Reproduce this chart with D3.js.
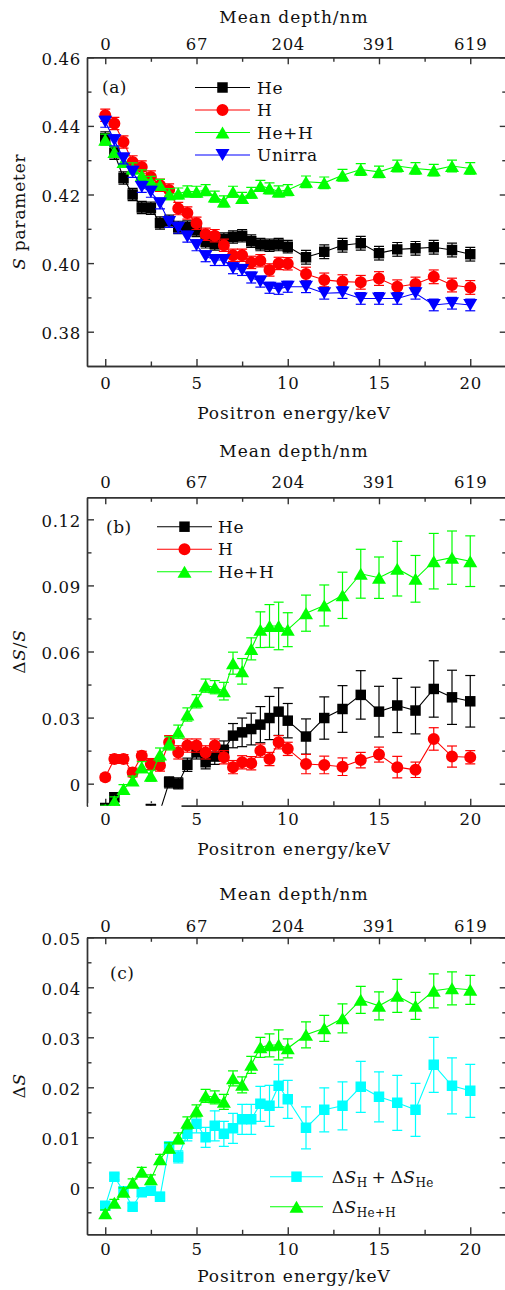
<!DOCTYPE html>
<html><head><meta charset="utf-8">
<script src="https://cdn.jsdelivr.net/npm/d3@7"></script>
<style>
body{margin:0;background:#fff}
svg{display:block}
text{font-family:"DejaVu Serif",serif;fill:#111}
</style>
</head><body>
<svg id="chart" width="505" height="1290"></svg>
<script>
// ---------- data ----------
const energy = [0,0.5,1,1.5,2,2.5,3,3.5,4,4.5,5,5.5,6,6.5,7,7.5,8,8.5,9,9.5,10,11,12,13,14,15,16,17,18,19,20];
const xMajorTicks = [0,5,10,15,20];
const xMinorTicks = [2.5,7.5,12.5,17.5];
const depthLabels = ["0","67","204","391","619"];

// (a) S parameter
const sHe   = [0.4365,0.4320,0.4248,0.4200,0.4162,0.4160,0.4117,0.4122,0.4104,0.4105,0.4095,0.4062,0.4056,0.4070,0.4076,0.4080,0.4064,0.4054,0.4052,0.4054,0.4048,0.4017,0.4033,0.4052,0.4058,0.4029,0.4040,0.4043,0.4046,0.4038,0.4026];
const sHeErr= [0.0018,0.0018,0.0018,0.0018,0.0018,0.0018,0.0018,0.0018,0.0018,0.0018,0.0018,0.0018,0.0018,0.0018,0.0018,0.0018,0.0018,0.0018,0.0018,0.0018,0.0018,0.0020,0.0020,0.0020,0.0020,0.0020,0.0020,0.0020,0.0020,0.0020,0.0020];
const sH    = [0.4431,0.4407,0.4353,0.4295,0.4280,0.4251,0.4227,0.4213,0.4159,0.4146,0.4116,0.4084,0.4080,0.4052,0.4023,0.4023,0.4002,0.4007,0.3980,0.3999,0.3998,0.3968,0.3951,0.3946,0.3944,0.3955,0.3931,0.3939,0.3960,0.3936,0.3929];
const sHErr = [0.0018,0.0018,0.0018,0.0018,0.0018,0.0018,0.0018,0.0018,0.0018,0.0018,0.0018,0.0018,0.0018,0.0018,0.0018,0.0018,0.0018,0.0018,0.0018,0.0018,0.0018,0.0020,0.0020,0.0020,0.0020,0.0020,0.0020,0.0020,0.0020,0.0020,0.0020];
const sHeH  = [0.4360,0.4324,0.4295,0.4276,0.4256,0.4237,0.4228,0.4201,0.4203,0.4209,0.4208,0.4213,0.4194,0.4180,0.4208,0.4190,0.4205,0.4225,0.4218,0.4209,0.4213,0.4237,0.4234,0.4256,0.4273,0.4266,0.4283,0.4276,0.4271,0.4283,0.4276];
const sHeHErr=[0.0016,0.0016,0.0016,0.0016,0.0016,0.0016,0.0016,0.0016,0.0016,0.0016,0.0016,0.0016,0.0016,0.0016,0.0016,0.0016,0.0016,0.0016,0.0016,0.0016,0.0016,0.0017,0.0017,0.0017,0.0017,0.0017,0.0017,0.0017,0.0017,0.0017,0.0017];
const sUn   = [0.4412,0.4358,0.4305,0.4266,0.4222,0.4208,0.4174,0.4120,0.4103,0.4077,0.4052,0.4020,0.4009,0.4009,0.3985,0.3980,0.3958,0.3946,0.3928,0.3925,0.3931,0.3931,0.3912,0.3914,0.3897,0.3897,0.3897,0.3912,0.3878,0.3883,0.3878];
const sUnErr= [0.0016,0.0016,0.0016,0.0016,0.0016,0.0016,0.0016,0.0016,0.0016,0.0016,0.0016,0.0016,0.0016,0.0016,0.0016,0.0016,0.0016,0.0016,0.0016,0.0016,0.0016,0.0017,0.0017,0.0017,0.0017,0.0017,0.0017,0.0017,0.0017,0.0017,0.0017];
const yTicksA = [0.38,0.40,0.42,0.44,0.46];
const yMinorA = [0.39,0.41,0.43,0.45];

// (b) ΔS/S
const rHe    = [-0.0110,-0.0062,-0.0130,-0.0155,-0.0140,-0.0115,-0.0125,0.0006,0.0001,0.0086,0.0142,0.0097,0.0123,0.0154,0.0218,0.0233,0.0248,0.0268,0.0298,0.0327,0.0286,0.0214,0.0298,0.0339,0.0403,0.0327,0.0355,0.0332,0.0430,0.0392,0.0374];
const rHeErr = [0.0020,0.0020,0.0020,0.0020,0.0020,0.0020,0.0020,0.0025,0.0025,0.0030,0.0030,0.0030,0.0035,0.0040,0.0055,0.0065,0.0072,0.0082,0.0098,0.0108,0.0078,0.0080,0.0096,0.0106,0.0110,0.0115,0.0123,0.0106,0.0128,0.0123,0.0117];
const rH     = [0.0029,0.0112,0.0112,0.0051,0.0127,0.0089,0.0082,0.0188,0.0142,0.0173,0.0173,0.0142,0.0173,0.0120,0.0075,0.0097,0.0093,0.0150,0.0112,0.0188,0.0158,0.0089,0.0085,0.0077,0.0107,0.0132,0.0075,0.0063,0.0203,0.0123,0.0120];
const rHErr  = [0.0015,0.0020,0.0020,0.0020,0.0020,0.0025,0.0025,0.0030,0.0030,0.0030,0.0030,0.0030,0.0030,0.0030,0.0030,0.0030,0.0030,0.0030,0.0030,0.0030,0.0030,0.0044,0.0040,0.0040,0.0035,0.0034,0.0049,0.0035,0.0051,0.0048,0.0030];
const rHeH   = [-0.0118,-0.0080,-0.0024,0.0014,0.0075,0.0036,0.0132,0.0183,0.0236,0.0314,0.0374,0.0445,0.0438,0.0420,0.0547,0.0510,0.0612,0.0699,0.0716,0.0716,0.0699,0.0774,0.0809,0.0855,0.0953,0.0935,0.0976,0.0930,0.1010,0.1026,0.1010];
const rHeHErr= [0.0020,0.0020,0.0020,0.0020,0.0025,0.0025,0.0030,0.0030,0.0030,0.0030,0.0030,0.0030,0.0030,0.0040,0.0050,0.0058,0.0050,0.0081,0.0097,0.0108,0.0077,0.0082,0.0093,0.0105,0.0111,0.0094,0.0124,0.0106,0.0126,0.0121,0.0115];
const yTicksB = [0,0.03,0.06,0.09,0.12];
const yMinorB = [0.015,0.045,0.075,0.105];

// (c) ΔS
const dSum    = [-0.0037,0.0021,-0.0008,-0.0039,-0.0010,-0.0007,-0.0019,0.0081,0.0061,0.0107,0.0127,0.0100,0.0123,0.0107,0.0118,0.0136,0.0136,0.0167,0.0163,0.0203,0.0176,0.0119,0.0155,0.0163,0.0201,0.0181,0.0169,0.0155,0.0245,0.0203,0.0193];
const dSumErr = [0.0005,0.0006,0.0006,0.0007,0.0008,0.0008,0.0009,0.0010,0.0012,0.0014,0.0018,0.0020,0.0030,0.0025,0.0030,0.0030,0.0030,0.0035,0.0041,0.0043,0.0038,0.0042,0.0044,0.0048,0.0051,0.0050,0.0055,0.0053,0.0055,0.0056,0.0053];
const dHeH    = [-0.0052,-0.0031,-0.0009,0.0009,0.0031,0.0016,0.0056,0.0079,0.0098,0.0129,0.0153,0.0183,0.0180,0.0171,0.0218,0.0205,0.0245,0.0280,0.0284,0.0285,0.0278,0.0305,0.0318,0.0338,0.0375,0.0363,0.0383,0.0363,0.0393,0.0398,0.0395];
const dHeHErr = [0.0007,0.0007,0.0008,0.0008,0.0009,0.0009,0.0010,0.0010,0.0011,0.0012,0.0012,0.0013,0.0013,0.0015,0.0015,0.0016,0.0017,0.0020,0.0023,0.0030,0.0019,0.0026,0.0026,0.0029,0.0027,0.0028,0.0033,0.0027,0.0034,0.0033,0.0029];
const yTicksC = [0,0.01,0.02,0.03,0.04,0.05];
const yMinorC = [-0.005,0.005,0.015,0.025,0.035,0.045];

// ---------- drawing ----------
const svg = d3.select("#chart");
const x = d3.scaleLinear().domain([-1,22]).range([87,506.75]);
const AX = "#333";
const fmtTick = v => v === 0 ? "0" : d3.format(".2f")(v);

// bbox-centred triangle symbols
const triUp = {draw(ctx, s){ const w=s/2, h=s*0.43; ctx.moveTo(0,-h); ctx.lineTo(w,h); ctx.lineTo(-w,h); ctx.closePath(); }};
const triDown = {draw(ctx, s){ const w=s/2, h=s*0.43; ctx.moveTo(0,h); ctx.lineTo(w,-h); ctx.lineTo(-w,-h); ctx.closePath(); }};
function symPath(shape){
  if (shape === "square") return d3.symbol().type(d3.symbolSquare).size(110)();
  if (shape === "circle") return d3.symbol().type(d3.symbolCircle).size(113)();
  if (shape === "tri") return d3.symbol().type(triUp).size(14)();
  return d3.symbol().type(triDown).size(14)();
}

function styleText(sel, size, ls){
  sel.attr("font-family",'"DejaVu Serif",serif').attr("font-size",size).attr("fill","#111")
     .attr("letter-spacing", ls);
}

function drawPanel(cfg){
  const y = d3.scaleLinear().domain(cfg.dom).range([cfg.bottom, cfg.top]);
  const x0 = x.range()[0], x1 = x.range()[1];
  const g = svg.append("g");
  const cid = "clip" + cfg.id;
  svg.append("clipPath").attr("id", cid).append("rect")
    .attr("x", x0).attr("y", cfg.top).attr("width", x1 - x0).attr("height", cfg.bottom - cfg.top);

  const ax = g.append("g");
  function put(axis, tx, ty){
    const a = ax.append("g").attr("transform", `translate(${tx},${ty})`).call(axis);
    a.attr("font-family", null).attr("font-size", null).attr("color", AX);
    a.selectAll("path,line").attr("stroke", AX).attr("stroke-width", 1.4);
    return a;
  }
  // bottom
  put(d3.axisBottom(x).tickValues(xMinorTicks).tickSizeInner(-4.5).tickSizeOuter(0).tickFormat(""), 0, cfg.bottom);
  const bAx = put(d3.axisBottom(x).tickValues(xMajorTicks).tickSizeInner(-7).tickSizeOuter(0).tickFormat(d3.format("d")), 0, cfg.bottom);
  bAx.selectAll("text").attr("y", cfg.botLab).attr("dy", null).call(styleText, 16.5, 0.7);
  // top
  put(d3.axisTop(x).tickValues(xMinorTicks).tickSizeInner(-4.5).tickSizeOuter(0).tickFormat(""), 0, cfg.top);
  const tAx = put(d3.axisTop(x).tickValues(xMajorTicks).tickSizeInner(-7).tickSizeOuter(0)
      .tickFormat((d,i) => depthLabels[i]), 0, cfg.top);
  tAx.selectAll("text").attr("y", cfg.topLab).attr("dy", null).call(styleText, 16.5, 0.7);
  // left
  put(d3.axisLeft(y).tickValues(cfg.minor).tickSizeInner(-4.5).tickSizeOuter(0).tickFormat(""), x0, 0);
  const lAx = put(d3.axisLeft(y).tickValues(cfg.major).tickSizeInner(-7).tickSizeOuter(0).tickFormat(fmtTick), x0, 0);
  lAx.selectAll("text").attr("x", -6).attr("dy", null).attr("y", 7).call(styleText, 16.5, 0.7);
  // right
  put(d3.axisRight(y).tickValues(cfg.minor).tickSizeInner(-4.5).tickSizeOuter(0).tickFormat(""), x1, 0);
  put(d3.axisRight(y).tickValues(cfg.major).tickSizeInner(-7).tickSizeOuter(0).tickFormat(""), x1, 0);

  if (cfg.mask) {
    g.append("rect").attr("x", cfg.mask[0]).attr("y", cfg.bottom - 2.5)
      .attr("width", cfg.mask[1] - cfg.mask[0]).attr("height", 9).attr("fill", "#fff");
  }

  // titles
  const tcx = 294;
  g.append("text").attr("x", tcx).attr("y", cfg.topTitle).attr("text-anchor","middle")
    .call(styleText, 17, 1).text("Mean depth/nm");
  g.append("text").attr("x", tcx).attr("y", cfg.botTitle).attr("text-anchor","middle")
    .call(styleText, 17, 1).text("Positron energy/keV");
  const yt = g.append("text").attr("transform", `translate(25,${(cfg.top+cfg.bottom)/2}) rotate(-90)`)
    .attr("text-anchor","middle").call(styleText, 17, 0.8);
  cfg.ytitle(yt);

  // panel tag
  g.append("text").attr("x", cfg.tag[0]).attr("y", cfg.tag[1]).call(styleText, 17, 0.5).text(cfg.tagText);

  // series
  const dg = g.append("g").attr("clip-path", `url(#${cid})`);
  cfg.series.forEach(s => {
    const pts = energy.map((e,i) => ({e, v: s.ys[i], err: s.es[i]}));
    const sg = dg.append("g");
    sg.append("path").datum(pts)
      .attr("d", d3.line().x(d => x(d.e)).y(d => y(d.v)))
      .attr("fill","none").attr("stroke", s.color).attr("stroke-width", 1.1);
    const eb = sg.append("g").attr("stroke", s.color).attr("stroke-width", 1.2);
    pts.forEach(d => {
      const xx = x(d.e), ya = y(d.v + d.err), yb = y(d.v - d.err);
      eb.append("line").attr("x1", xx).attr("x2", xx).attr("y1", ya).attr("y2", yb);
      eb.append("line").attr("x1", xx-5).attr("x2", xx+5).attr("y1", ya).attr("y2", ya);
      eb.append("line").attr("x1", xx-5).attr("x2", xx+5).attr("y1", yb).attr("y2", yb);
    });
    sg.selectAll("path.m").data(pts).join("path").attr("class","m")
      .attr("d", symPath(s.shape))
      .attr("transform", d => `translate(${x(d.e)},${y(d.v)})`)
      .attr("fill", s.color);
  });

  // legend
  cfg.series.forEach((s, i) => {
    const ly = cfg.leg.y0 + i * cfg.leg.dy;
    const lg = g.append("g");
    lg.append("line").attr("x1", cfg.leg.x0).attr("x2", cfg.leg.x1).attr("y1", ly).attr("y2", ly)
      .attr("stroke", s.color).attr("stroke-width", 1.1);
    lg.append("path").attr("d", symPath(s.shape))
      .attr("transform", `translate(${(cfg.leg.x0+cfg.leg.x1)/2},${ly})`).attr("fill", s.color);
    const t = lg.append("text").attr("x", cfg.leg.tx).attr("y", ly + 6).call(styleText, 17, 0.6);
    s.label(t);
  });
}

const plain = str => t => t.text(str);

drawPanel({
  id:"a", top:57.3, bottom:366, dom:[0.37,0.46], major:yTicksA, minor:yMinorA,
  topLab:-7.3, topTitle:22.5, botLab:23.3, botTitle:419,
  tag:[102,93], tagText:"(a)",
  ytitle: t => { t.append("tspan").attr("font-style","italic").text("S"); t.append("tspan").text(" parameter"); },
  leg:{x0:195, x1:250, tx:257, y0:87.5, dy:22.5},
  series:[
    {ys:sHe, es:sHeErr, color:"#000000", shape:"square", label:plain("He")},
    {ys:sH, es:sHErr, color:"#ff0000", shape:"circle", label:plain("H")},
    {ys:sHeH, es:sHeHErr, color:"#00ff00", shape:"tri", label:plain("He+H")},
    {ys:sUn, es:sUnErr, color:"#0000ff", shape:"tridown", label:plain("Unirra")}
  ]
});

drawPanel({
  id:"b", top:497.3, bottom:805.7, dom:[-0.01,0.13], major:yTicksB, minor:yMinorB,
  topLab:-9, topTitle:457.3, botLab:19.3, botTitle:855.3,
  tag:[106,533], tagText:"(b)", mask:[88.2,181.5],
  ytitle: t => { t.append("tspan").text("Δ"); t.append("tspan").attr("font-style","italic").text("S"); t.append("tspan").text("/"); t.append("tspan").attr("font-style","italic").text("S"); },
  leg:{x0:157, x1:212, tx:218, y0:526.7, dy:22.5},
  series:[
    {ys:rHe, es:rHeErr, color:"#000000", shape:"square", label:plain("He")},
    {ys:rH, es:rHErr, color:"#ff0000", shape:"circle", label:plain("H")},
    {ys:rHeH, es:rHeHErr, color:"#00ff00", shape:"tri", label:plain("He+H")}
  ]
});

function deltaS(t, sub){ t.append("tspan").text("Δ"); t.append("tspan").attr("font-style","italic").text("S");
  t.append("tspan").attr("font-size",12).attr("dy",4).attr("letter-spacing",0.3).text(sub); }

drawPanel({
  id:"c", top:937.3, bottom:1234.3, dom:[-0.0094,0.05], major:yTicksC, minor:yMinorC,
  topLab:-5.6, topTitle:900, botLab:20.7, botTitle:1281.7,
  tag:[110,979], tagText:"(c)",
  ytitle: t => { t.append("tspan").text("Δ"); t.append("tspan").attr("font-style","italic").text("S"); },
  leg:{x0:270, x1:323, tx:331.7, y0:1176.7, dy:30},
  series:[
    {ys:dSum, es:dSumErr, color:"#00ffff", shape:"square",
     label: t => { deltaS(t,"H"); t.append("tspan").attr("dy",-4).text("\u2009+\u2009"); deltaS(t,"He"); }},
    {ys:dHeH, es:dHeHErr, color:"#00ff00", shape:"tri",
     label: t => { deltaS(t,"He+H"); }}
  ]
});
</script>
</body></html>
